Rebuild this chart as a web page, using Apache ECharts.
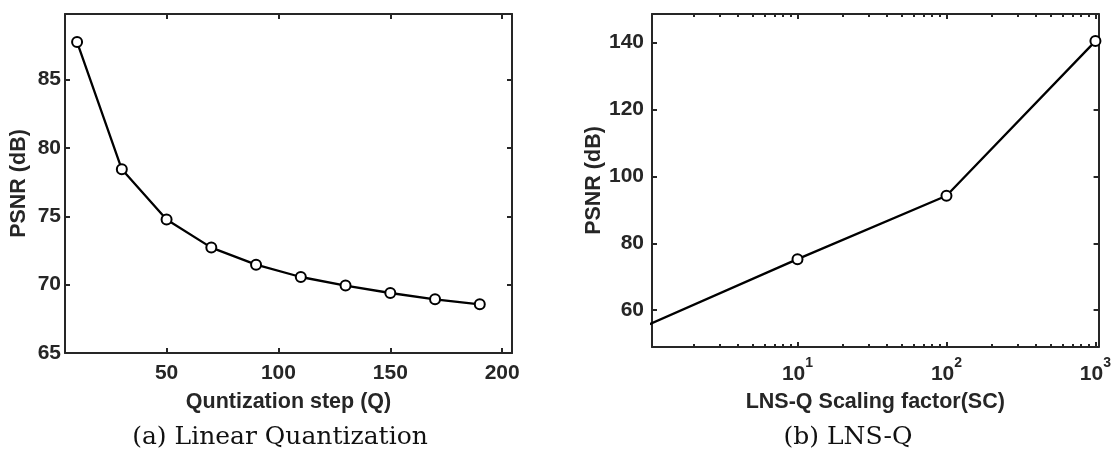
<!DOCTYPE html>
<html>
<head>
<meta charset="utf-8">
<script src="https://cdn.jsdelivr.net/npm/echarts@6/dist/echarts.min.js"></script>
<style>
html,body{margin:0;padding:0;background:#fff;}
#c{width:1114px;height:461px;}
</style>
</head>
<body>
<div id="c"></div>
<script>
// ---- data ----
const qSteps = [10, 30, 50, 70, 90, 110, 130, 150, 170, 190];
const psnrLinear = [87.75, 78.44, 74.76, 72.71, 71.46, 70.56, 69.93, 69.39, 68.93, 68.56];
const scFactors = [1, 10, 100, 1000];
const psnrLns = [55.7, 75.25, 94.2, 140.4];

const xTicksA = [50, 100, 150, 200];
const yTicksA = [65, 70, 75, 80, 85];
const xTicksB = [10, 100, 1000];
const xMinorB = [2,3,4,5,6,7,8,9,20,30,40,50,60,70,80,90,200,300,400,500,600,700,800,900];
const yTicksB = [60, 80, 100, 120, 140];

const titleA = 'Quntization step (Q)';
const titleB = 'LNS-Q Scaling factor(SC)';
const yTitle = 'PSNR (dB)';
const captionA = '(a) Linear Quantization';
const captionB = '(b) LNS-Q';

// ---- styles ----
const AX = '#262626';
const FONT = '"Liberation Sans", Arial, Helvetica, sans-serif';
const lineStyle = {color: AX, width: 2};
const lbl = {color: AX, fontFamily: FONT, fontWeight: 'bold', fontSize: 21};
const nameStyle = {color: AX, fontFamily: FONT, fontWeight: 'bold', fontSize: 21.5};
const tickStyle = {color: AX, width: 2};

function boxAxis(extra) {
  return Object.assign({
    axisLine: {show: true, onZero: false, lineStyle: lineStyle},
    splitLine: {show: false},
    axisLabel: {show: false},
    axisTick: {show: true, inside: true, length: 5, lineStyle: tickStyle}
  }, extra);
}

const xRangeA = [4.6, 204.4];
const yRangeA = [65, 89.8];
const xRangeB = [1.055, 1050];
const yRangeB = [49, 148.5];

const supDigits = {'10': '1', '100': '2', '1000': '3'};

const option = {
  backgroundColor: '#fff',
  animation: false,
  grid: [
    {left: 65, top: 14, width: 447, height: 339, containLabel: false},
    {left: 652, top: 14, width: 448, height: 333, containLabel: false}
  ],
  xAxis: [
    boxAxis({gridIndex: 0, type: 'value', position: 'bottom', min: xRangeA[0], max: xRangeA[1],
      axisTick: {show: true, inside: true, length: 5, customValues: xTicksA, lineStyle: tickStyle},
      axisLabel: Object.assign({show: true, margin: 10, customValues: xTicksA}, lbl),
      name: titleA, nameLocation: 'middle', nameGap: 38, nameTextStyle: nameStyle}),
    boxAxis({gridIndex: 0, type: 'value', position: 'top', min: xRangeA[0], max: xRangeA[1],
      axisTick: {show: true, inside: true, length: 5, customValues: xTicksA, lineStyle: tickStyle}}),
    boxAxis({gridIndex: 1, type: 'log', logBase: 10, position: 'bottom', min: xRangeB[0], max: xRangeB[1],
      axisTick: {show: true, inside: true, length: 5, customValues: xTicksB, lineStyle: tickStyle},
      axisLabel: Object.assign({show: true, margin: 9, customValues: xTicksB,
        formatter: function (v) { return '{b|10}{s|' + (supDigits[String(Math.round(v))] || '') + '}'; },
        rich: {
          b: {color: AX, fontFamily: FONT, fontWeight: 'bold', fontSize: 21, padding: [8, 0, 0, 0]},
          s: {color: AX, fontFamily: FONT, fontWeight: 'bold', fontSize: 14, verticalAlign: 'top'}
        }}, lbl),
      name: titleB, nameLocation: 'middle', nameGap: 44, nameTextStyle: nameStyle}),
    boxAxis({gridIndex: 1, type: 'log', logBase: 10, position: 'bottom', min: xRangeB[0], max: xRangeB[1],
      axisLine: {show: false},
      axisTick: {show: true, inside: true, length: 3, customValues: xMinorB, lineStyle: tickStyle}}),
    boxAxis({gridIndex: 1, type: 'log', logBase: 10, position: 'top', min: xRangeB[0], max: xRangeB[1],
      axisTick: {show: true, inside: true, length: 5, customValues: xTicksB, lineStyle: tickStyle}}),
    boxAxis({gridIndex: 1, type: 'log', logBase: 10, position: 'top', min: xRangeB[0], max: xRangeB[1],
      axisLine: {show: false},
      axisTick: {show: true, inside: true, length: 3, customValues: xMinorB, lineStyle: tickStyle}})
  ],
  yAxis: [
    boxAxis({gridIndex: 0, type: 'value', position: 'left', min: yRangeA[0], max: yRangeA[1],
      axisTick: {show: true, inside: true, length: 5, customValues: yTicksA, lineStyle: tickStyle},
      axisLabel: Object.assign({show: true, margin: 4, customValues: yTicksA}, lbl),
      name: yTitle, nameLocation: 'middle', nameGap: 35, nameTextStyle: nameStyle}),
    boxAxis({gridIndex: 0, type: 'value', position: 'right', min: yRangeA[0], max: yRangeA[1],
      axisTick: {show: true, inside: true, length: 5, customValues: yTicksA, lineStyle: tickStyle}}),
    boxAxis({gridIndex: 1, type: 'value', position: 'left', min: yRangeB[0], max: yRangeB[1],
      axisTick: {show: true, inside: true, length: 5, customValues: yTicksB, lineStyle: tickStyle},
      axisLabel: Object.assign({show: true, margin: 8, customValues: yTicksB}, lbl),
      name: yTitle, nameLocation: 'middle', nameGap: 43, nameTextStyle: nameStyle}),
    boxAxis({gridIndex: 1, type: 'value', position: 'right', min: yRangeB[0], max: yRangeB[1],
      axisTick: {show: true, inside: true, length: 5, customValues: yTicksB, lineStyle: tickStyle}})
  ],
  series: [
    {
      type: 'line', xAxisIndex: 0, yAxisIndex: 0,
      data: qSteps.map((q, i) => [q, psnrLinear[i]]),
      symbol: 'emptyCircle', symbolSize: 10,
      lineStyle: {color: '#000', width: 2.3},
      itemStyle: {color: '#000', borderColor: '#000', borderWidth: 2.3},
      clip: true, z: 5
    },
    {
      type: 'line', xAxisIndex: 2, yAxisIndex: 2,
      data: scFactors.map((s, i) => [s, psnrLns[i]]),
      symbol: 'emptyCircle', symbolSize: 10,
      lineStyle: {color: '#000', width: 2.3},
      itemStyle: {color: '#000', borderColor: '#000', borderWidth: 2.3},
      clip: true, z: 5
    }
  ],
  graphic: [
    {type: 'text', x: 280, y: 437, style: {text: captionA, fill: '#111',
      font: '25px "DejaVu Serif", "Liberation Serif", serif', textAlign: 'center', textVerticalAlign: 'middle'}},
    {type: 'text', x: 848, y: 437, style: {text: captionB, fill: '#111',
      font: '25px "DejaVu Serif", "Liberation Serif", serif', textAlign: 'center', textVerticalAlign: 'middle'}}
  ]
};

const chart = echarts.init(document.getElementById('c'), null, {renderer: 'canvas'});
chart.setOption(option);
</script>
</body>
</html>
